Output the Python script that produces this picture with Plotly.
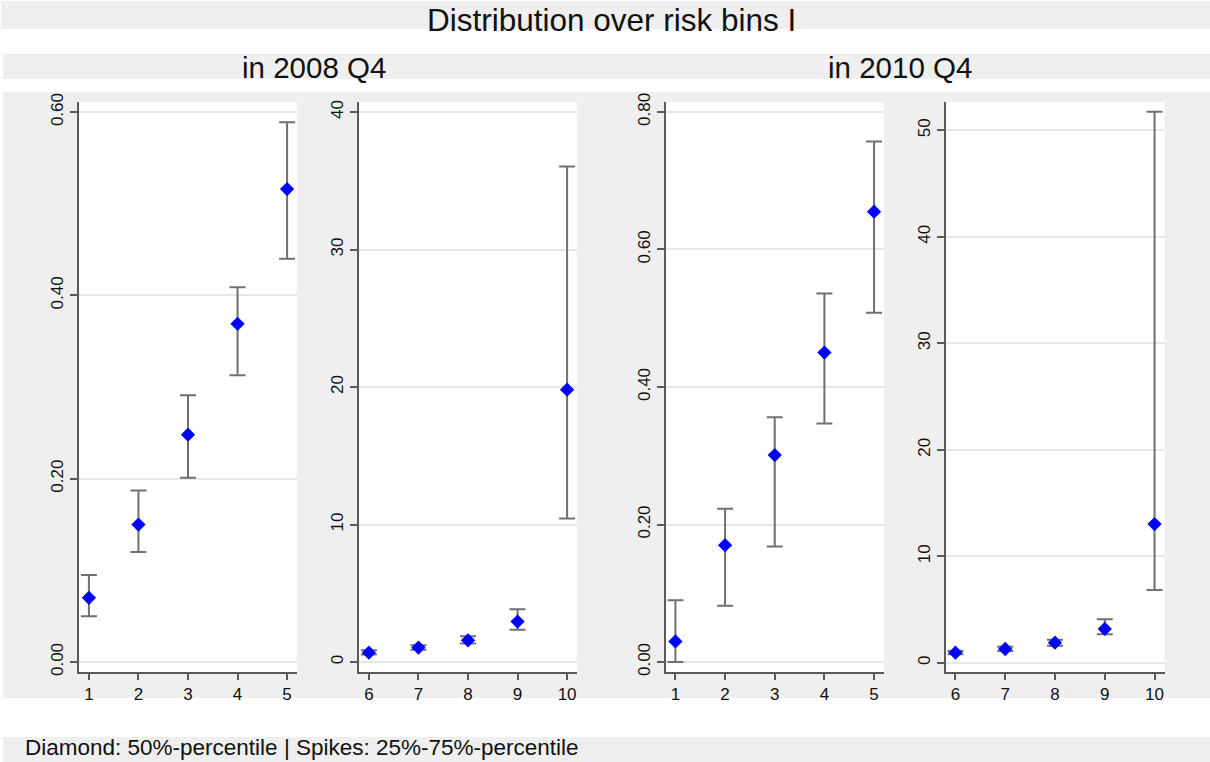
import plotly.graph_objects as go

# ---------------- data ----------------
bins_low = [1, 2, 3, 4, 5]
bins_high = [6, 7, 8, 9, 10]

# 2008 Q4: median (diamond) and 25% / 75% percentiles (spikes)
p50_2008_low = [0.070, 0.150, 0.248, 0.369, 0.516]
p25_2008_low = [0.050, 0.120, 0.201, 0.313, 0.440]
p75_2008_low = [0.095, 0.187, 0.291, 0.409, 0.589]
p50_2008_high = [0.68, 1.05, 1.58, 2.94, 19.81]
p25_2008_high = [0.55, 0.90, 1.34, 2.35, 10.43]
p75_2008_high = [0.85, 1.22, 1.87, 3.83, 36.03]

# 2010 Q4
p50_2010_low = [0.030, 0.170, 0.301, 0.450, 0.655]
p25_2010_low = [0.000, 0.082, 0.168, 0.347, 0.508]
p75_2010_low = [0.090, 0.223, 0.356, 0.536, 0.757]
p50_2010_high = [0.94, 1.29, 1.88, 3.17, 13.02]
p25_2010_high = [0.80, 1.10, 1.60, 2.67, 6.84]
p75_2010_high = [1.10, 1.50, 2.16, 4.08, 51.74]

# tick labels
yt_2008_low = [0.0, 0.2, 0.4, 0.6]
yl_2008_low = ["0.00", "0.20", "0.40", "0.60"]
yt_2008_high = [0, 10, 20, 30, 40]
yl_2008_high = ["0", "10", "20", "30", "40"]
yt_2010_low = [0.0, 0.2, 0.4, 0.6, 0.8]
yl_2010_low = ["0.00", "0.20", "0.40", "0.60", "0.80"]
yt_2010_high = [0, 10, 20, 30, 40, 50]
yl_2010_high = ["0", "10", "20", "30", "40", "50"]

title_text = "Distribution over risk bins I"
sub_left = "in 2008 Q4"
sub_right = "in 2010 Q4"
note_text = "Diamond: 50%-percentile | Spikes: 25%-75%-percentile"

# ---------------- styling / layout helpers ----------------
W, H = 1210, 762
FONT = "Liberation Sans, Arial, Helvetica, sans-serif"
GRAY_BG = "#efefef"
AXIS_COL = "#5a5a5a"
GRID_COL = "#e6e6e6"
ERR_COL = "#707070"
MARK_COL = "#0000ff"
TXT_COL = "#111111"


def px_x(p):
    return p / W


def px_y(p):
    return 1 - p / H


plot_top, plot_bot = 102, 672
panels = [
    (79, 297, bins_low, p50_2008_low, p25_2008_low, p75_2008_low,
     [-0.0109, 0.611], yt_2008_low, yl_2008_low, [0.8, 5.2]),
    (359, 577, bins_high, p50_2008_high, p25_2008_high, p75_2008_high,
     [-0.727, 40.73], yt_2008_high, yl_2008_high, [5.8, 10.2]),
    (665.5, 884, bins_low, p50_2010_low, p25_2010_low, p75_2010_low,
     [-0.0145, 0.8145], yt_2010_low, yl_2010_low, [0.8, 5.2]),
    (945.5, 1164.5, bins_high, p50_2010_high, p25_2010_high, p75_2010_high,
     [-0.87, 52.65], yt_2010_high, yl_2010_high, [5.8, 10.2]),
]

fig = go.Figure()
layout = dict(
    width=W, height=H, autosize=False,
    margin=dict(l=0, r=0, t=0, b=0, pad=0, autoexpand=False),
    paper_bgcolor="white",
    plot_bgcolor="rgba(0,0,0,0)",
    showlegend=False,
    font=dict(family=FONT, color=TXT_COL),
)

shapes = []
# gray header / background / note bands
for (x0, x1, y0, y1) in [(1, W, 1, 29), (3, W, 54, 79), (3, W, 92, 698), (3, W, 737, H)]:
    shapes.append(dict(type="rect", xref="paper", yref="paper", layer="below",
                       x0=px_x(x0), x1=px_x(x1), y0=px_y(y1), y1=px_y(y0),
                       fillcolor=GRAY_BG, line=dict(width=0)))

for i, (x0, x1, bins, p50, p25, p75, yr, tv, tt, xr) in enumerate(panels):
    n = i + 1
    xa = "x" if n == 1 else f"x{n}"
    ya = "y" if n == 1 else f"y{n}"
    xkey = "xaxis" if n == 1 else f"xaxis{n}"
    ykey = "yaxis" if n == 1 else f"yaxis{n}"
    # white plot region
    shapes.append(dict(type="rect", xref="paper", yref="paper", layer="below",
                       x0=px_x(x0), x1=px_x(x1), y0=px_y(plot_bot), y1=px_y(plot_top),
                       fillcolor="white", line=dict(width=0)))
    plus = [a - b for a, b in zip(p75, p50)]
    minus = [b - a for a, b in zip(p25, p50)]
    fig.add_trace(go.Scatter(
        x=bins, y=p50, mode="markers", xaxis=xa, yaxis=ya,
        marker=dict(symbol="diamond", size=11, color=MARK_COL, line=dict(width=0)),
        error_y=dict(type="data", symmetric=False, array=plus, arrayminus=minus,
                     color=ERR_COL, thickness=2, width=8),
        cliponaxis=False,
    ))
    layout[xkey] = dict(
        domain=[px_x(x0), px_x(x1)], anchor=ya, range=xr, automargin=False,
        tickmode="array", tickvals=bins, ticktext=[str(b) for b in bins],
        showgrid=False, zeroline=False,
        showline=True, linecolor=AXIS_COL, linewidth=1.5,
        ticks="outside", ticklen=6, tickwidth=1.5, tickcolor=AXIS_COL,
        tickfont=dict(size=17, family=FONT, color=TXT_COL),
        fixedrange=True,
    )
    layout[ykey] = dict(
        domain=[px_y(plot_bot), px_y(plot_top)], anchor=xa, range=yr, automargin=False,
        tickmode="array", tickvals=tv, ticktext=tt, tickangle=-90,
        showgrid=True, gridcolor=GRID_COL, gridwidth=1.5, zeroline=False,
        showline=True, linecolor=AXIS_COL, linewidth=1.5,
        ticks="outside", ticklen=7, tickwidth=1.5, tickcolor=AXIS_COL,
        tickfont=dict(size=17, family=FONT, color=TXT_COL),
        fixedrange=True,
    )

layout["shapes"] = shapes
layout["annotations"] = [
    dict(text=title_text, x=px_x(611), y=1, xref="paper", yref="paper",
         xanchor="center", yanchor="top", showarrow=False,
         font=dict(size=31.5, family=FONT, color=TXT_COL)),
    dict(text=sub_left, x=px_x(313.5), y=px_y(67), xref="paper", yref="paper",
         xanchor="center", yanchor="middle", showarrow=False,
         font=dict(size=29.5, family=FONT, color=TXT_COL)),
    dict(text=sub_right, x=px_x(899.5), y=px_y(67), xref="paper", yref="paper",
         xanchor="center", yanchor="middle", showarrow=False,
         font=dict(size=29.5, family=FONT, color=TXT_COL)),
    dict(text=note_text, x=px_x(23), y=0, xref="paper", yref="paper",
         xanchor="left", yanchor="bottom", showarrow=False,
         font=dict(size=22.5, family=FONT, color=TXT_COL)),
]

fig.update_layout(**layout)
fig.write_html("out.html", config={"responsive": False})
